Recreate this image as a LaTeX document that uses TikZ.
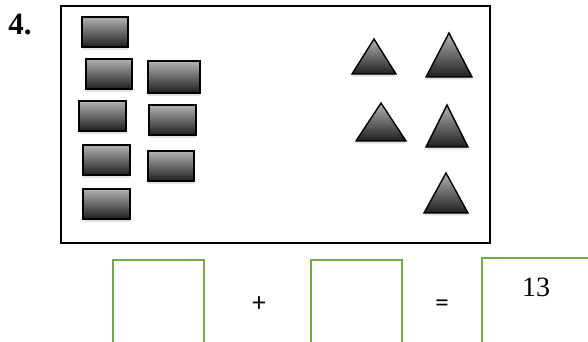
\documentclass[tikz,border=0pt]{standalone}
\usepackage{fontspec}
\setmainfont{Liberation Serif}
\newfontfamily\calfont{Carlito}
\usetikzlibrary{shadows}
\definecolor{agrn}{RGB}{112,173, 71}
\tikzset{
  % Outer frame
  Frm/.style={draw=black,line width=1.8pt},
  % Grey counting block
  Blk/.style={draw=black,line width=1.4pt,top color=black!30,bottom color=black!88,
              drop shadow={shadow xshift=0pt,shadow yshift=-2.5pt,opacity=0.22}},
  % Grey counting triangle
  Tri/.style={draw=black,line width=1.4pt,top color=black!30,bottom color=black!88,
              drop shadow={shadow xshift=0pt,shadow yshift=-2.5pt,opacity=0.22}},
  % Green answer box
  Ans/.style={rectangle,draw=agrn,line width=1.6pt,inner sep=0pt,
              minimum width=#1,minimum height=100pt},
  Ans/.default=91pt,
  % Operator sign
  Op/.style={inner sep=0pt,font=\calfont\fontsize{27}{28}\selectfont},
}
\begin{document}
\begin{tikzpicture}[x=1pt,y=-1pt]
\clip (0,0) rectangle (588,341);
\fill[white] (0,0) rectangle (588,341);
% ── Task number and frame ─────────────────
\node[inner sep=0pt,font=\fontsize{31}{32}\selectfont\bfseries] at (20,25) (num) {4.};
\draw[Frm] (61,6) rectangle (490,243);
% ── Blocks ─────────────────────────────────
\foreach \xa/\ya/\xb/\yb in {82/17/128/47, 86/59/132/89, 148/61/200/93,
                            79/101/126/131, 149/105/196/135, 83/145/130/175,
                            148/151/194/181, 83/189/130/219}
  \path[Blk] (\xa,\ya) rectangle (\xb,\yb);
% ── Triangles ──────────────────────────────
\foreach \cx/\ty/\by/\hw in {374/39/74/22, 449/33/77/23, 381/103/141/25,
                            447/105/147/21, 446/173/213/22}
  \path[Tri] (\cx,\ty) -- (\cx+\hw,\by) -- (\cx-\hw,\by) -- cycle;
% ── Number sentence ────────────────────────
\node[Ans] at (158.5,310) (boxA) {};
\node[Op] at (259,304) (plus) {+};
\node[Ans] at (356.5,310) (boxB) {};
\node[Op] at (442,306) (eq) {=};
\node[Ans=118pt] at (541,308) (boxC) {};
\node[inner sep=0pt,font=\fontsize{28}{29}\selectfont] at (536,287) (total) {13};
\end{tikzpicture}
\end{document}
